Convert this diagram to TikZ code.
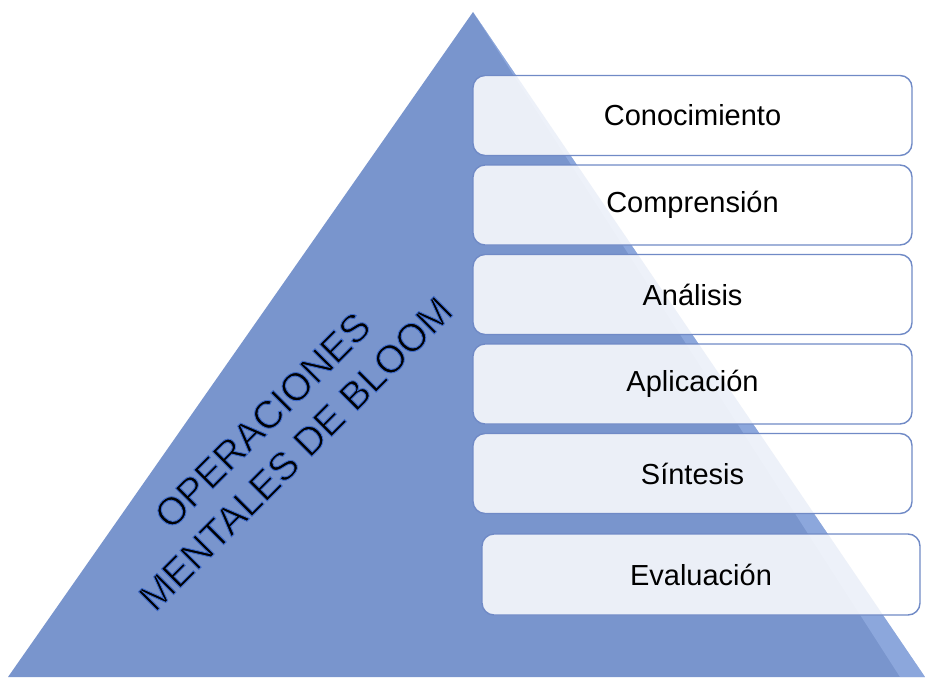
\documentclass[tikz,border=0pt]{standalone}
\usepackage{fontspec}
\setmainfont{Liberation Sans}
\definecolor{piramide}{RGB}{121,149,205}
\definecolor{brillo}{RGB}{160,185,235}
\definecolor{borde}{RGB}{112,138,198}
\newcommand{\bordeado}[1]{\special{pdf:code q 2 Tr 0.9 w 0.24 0.42 0.80 RG}#1\special{pdf:code Q}}
\tikzset{nivel/.style={draw=borde,line width=1.4pt,rounded corners=12pt,fill=white,fill opacity=.85,text opacity=1,minimum width=439pt,minimum height=80pt,font=\fontsize{29}{32}\selectfont}}

\begin{document}
\begin{tikzpicture}[x=1pt,y=-1pt]
		\useasboundingbox (0,0) rectangle (925,677);
		\fill[piramide] (473,12) -- (925,677) -- (8,677) -- cycle;
		\fill[brillo,opacity=.5] (473,12) -- (925,677) -- (900,677) -- cycle;
		
		\node[nivel] (1) at (692.5,115.5) {Conocimiento};
		\node[nivel] (2) at (692.5,205) {Comprensión};
		\node[nivel] (3) at (692.5,294.5) {Análisis};
		\node[nivel] (4) at (692.5,384) {Aplicación};
		\node[nivel] (5) at (692.5,473.5) {Síntesis};
		\node[nivel,minimum width=438pt,minimum height=81pt] (6) at (701,574.5) {Evaluación};
		
		\node[rotate=45,align=center,font=\fontsize{39}{47}\selectfont] (t) at (279,437) {\bordeado{OPERACIONES}\\\bordeado{MENTALES DE BLOOM}};
		\end{tikzpicture}
\end{document}
